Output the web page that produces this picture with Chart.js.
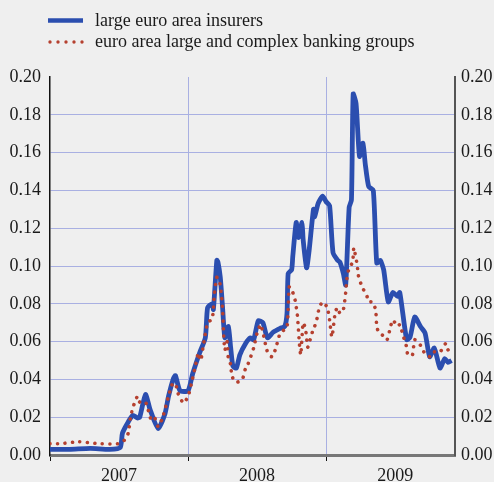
<!DOCTYPE html>
<html>
<head>
<meta charset="utf-8">
<script src="https://cdn.jsdelivr.net/npm/chart.js@4.4.0/dist/chart.umd.min.js"></script>
<style>
  body { margin: 0; background: #efefef; }
  #wrap { position: relative; width: 494px; height: 482px; }
  #legend { position: absolute; left: 0; top: 0; font-family: "Liberation Serif", serif; font-size: 18px; color: #1a1a1a; }
  .row { position: absolute; left: 48px; white-space: nowrap; line-height: 20px; }
  .row svg { position: absolute; left: 0; }
  .row span { position: absolute; left: 47px; }
</style>
</head>
<body>
<div id="wrap">
  <canvas id="chart" width="494" height="482"></canvas>
  <div id="legend">
    <div class="row" style="top:10px">
      <svg width="40" height="20" style="top:0"><line x1="0" y1="10.5" x2="35" y2="10.5" stroke="#2b4eaf" stroke-width="4.5"/></svg>
      <span>large euro area insurers</span>
    </div>
    <div class="row" style="top:31px">
      <svg width="40" height="20" style="top:0"><line x1="2" y1="11" x2="35" y2="11" stroke="#b5402f" stroke-width="3.4" stroke-linecap="round" stroke-dasharray="0 8"/></svg>
      <span>euro area large and complex banking groups</span>
    </div>
  </div>
</div>
<script>
// x values are months since January 2007
const years = ['2007', '2008', '2009'];

const insurerMonths = [0, 1.7, 3.5, 5.2, 6.1, 6.3, 6.8, 7.2, 7.6, 7.8, 8.3, 8.7, 9.4, 10.0, 10.3, 10.7, 10.9, 11.3, 12.0, 12.4,
  13.0, 13.5, 13.7, 14.1, 14.2, 14.5, 14.6, 14.8, 15.0, 15.2, 15.5, 15.7, 15.9, 16.2, 16.5, 17.0, 17.4, 17.7, 18.1, 18.5,
  18.9, 19.4, 20.0, 20.4, 20.6, 20.7, 21.0, 21.1, 21.4, 21.6, 21.9, 22.0, 22.3, 22.5, 22.9, 23.0, 23.3, 23.7, 24.0, 24.3,
  24.6, 25.0, 25.2, 25.5, 25.7, 26.0, 26.2, 26.35, 26.6, 26.9, 27.2, 27.4, 27.7, 28.1, 28.4, 28.7, 29.0, 29.4, 29.8, 30.2,
  30.4, 31.0, 31.3, 31.7, 32.2, 32.6, 33.0, 33.4, 33.9, 34.3, 34.6, 34.9];
const insurerValues = [0.003, 0.003, 0.0035, 0.003, 0.004, 0.0116, 0.0175, 0.021, 0.0196, 0.020, 0.032, 0.024, 0.014, 0.022, 0.031, 0.040, 0.042, 0.034, 0.034, 0.043,
  0.054, 0.062, 0.078, 0.080, 0.077, 0.103, 0.102, 0.094, 0.078, 0.062, 0.068, 0.057, 0.047, 0.046, 0.053, 0.059, 0.062, 0.061, 0.071, 0.070,
  0.062, 0.065, 0.067, 0.068, 0.075, 0.096, 0.098, 0.105, 0.123, 0.115, 0.123, 0.114, 0.099, 0.107, 0.130, 0.126, 0.133, 0.137, 0.134, 0.132,
  0.107, 0.103, 0.102, 0.096, 0.090, 0.131, 0.135, 0.191, 0.186, 0.158, 0.165, 0.154, 0.142, 0.140, 0.1016, 0.103, 0.098, 0.081, 0.086, 0.084,
  0.086, 0.061, 0.0625, 0.073, 0.068, 0.0645, 0.052, 0.0566, 0.046, 0.051, 0.049, 0.050];

const bankMonths = [0, 0.9, 2.5, 4.3, 5.9, 6.5, 6.8, 7.0, 7.2, 7.6, 7.8, 8.3, 8.8, 9.1, 9.4, 9.8, 10.3, 10.6, 10.9, 11.1,
  11.6, 12.0, 12.3, 12.6, 12.9, 13.1, 13.3, 13.7, 14.1, 14.3, 14.5, 14.7, 14.9, 15.0, 15.1, 15.2, 15.4, 15.5, 15.7, 15.8,
  16.1, 16.3, 16.7, 17.0, 17.2, 17.7, 18.0, 18.3, 18.5, 18.8, 19.0, 19.3, 19.6, 20.0, 20.3, 20.6, 20.7, 20.8, 21.1, 21.3,
  21.5, 21.7, 21.8, 22.0, 22.2, 22.3, 22.4, 22.8, 23.0, 23.2, 23.4, 23.7, 24.1, 24.3, 24.5, 24.8, 25.0, 25.2, 25.5, 25.7,
  25.8, 26.0, 26.3, 26.4, 26.5, 26.7, 26.8, 27.0, 27.2, 27.5, 27.7, 28.0, 28.3, 28.4, 28.6, 29.0, 29.3, 29.6, 29.8, 30.2,
  30.4, 30.7, 31.0, 31.1, 31.5, 31.7, 32.2, 32.5, 33.0, 33.3, 33.9, 34.4, 34.6, 35.0];
const bankValues = [0.006, 0.006, 0.007, 0.006, 0.006, 0.008, 0.0116, 0.020, 0.025, 0.031, 0.028, 0.028, 0.0185, 0.0196, 0.015, 0.020, 0.031, 0.037, 0.038, 0.033,
  0.0275, 0.031, 0.038, 0.046, 0.054, 0.050, 0.057, 0.070, 0.072, 0.086, 0.094, 0.093, 0.085, 0.077, 0.063, 0.0555, 0.060, 0.051, 0.048, 0.042,
  0.0386, 0.0386, 0.0397, 0.046, 0.048, 0.0566, 0.0645, 0.069, 0.065, 0.0566, 0.053, 0.052, 0.056, 0.0645, 0.066, 0.068, 0.077, 0.089, 0.086, 0.082,
  0.074, 0.057, 0.053, 0.070, 0.067, 0.062, 0.057, 0.065, 0.068, 0.072, 0.078, 0.081, 0.078, 0.0714, 0.0625, 0.0757, 0.078, 0.075, 0.077, 0.086,
  0.093, 0.099, 0.102, 0.1095, 0.107, 0.1005, 0.095, 0.091, 0.088, 0.085, 0.081, 0.081, 0.077, 0.068, 0.0645, 0.063, 0.061, 0.068, 0.0714, 0.068,
  0.069, 0.063, 0.057, 0.053, 0.053, 0.061, 0.058, 0.0545, 0.052, 0.0545, 0.0545, 0.059, 0.0556, 0.056];

const toPoints = (xs, ys) => xs.map((x, i) => ({ x: x, y: ys[i] }));
const tickFont = { family: 'Liberation Serif', size: 18 };

new Chart(document.getElementById('chart'), {
  type: 'line',
  data: {
    datasets: [{
      label: 'euro area large and complex banking groups',
      data: toPoints(bankMonths, bankValues),
      borderColor: '#b5402f',
      borderWidth: 3.6,
      borderDash: [0.01, 7.5],
      borderCapStyle: 'round',
      pointRadius: 0,
      tension: 0.2
    }, {
      label: 'large euro area insurers',
      data: toPoints(insurerMonths, insurerValues),
      borderColor: '#2b4eaf',
      borderWidth: 4.8,
      borderJoinStyle: 'round',
      pointRadius: 0,
      tension: 0.2
    }]
  },
  options: {
    responsive: false,
    animation: false,
    layout: { padding: { top: 77, left: 0, right: 0, bottom: 0 } },
    plugins: { legend: { display: false }, tooltip: { enabled: false } },
    scales: {
      x: {
        type: 'linear',
        min: 0,
        max: 35.2,
        afterBuildTicks: s => { s.ticks = [0, 6, 12, 18, 24, 30].map(v => ({ value: v })); },
        afterFit: s => { s.height = 27; },
        border: { color: '#777', width: 3 },
        grid: {
          color: c => (c.tick && (c.tick.value === 12 || c.tick.value === 24)) ? '#a9b0e2' : 'rgba(0,0,0,0)',
          tickColor: c => (c.tick && c.tick.value % 12 === 0) ? '#111' : 'rgba(0,0,0,0)',
          tickLength: 6,
          lineWidth: 1
        },
        ticks: {
          autoSkip: false,
          maxRotation: 0,
          padding: 4,
          color: '#1a1a1a',
          font: tickFont,
          callback: v => (v % 12 === 6) ? years[(v - 6) / 12] : ''
        }
      },
      y: {
        min: 0,
        max: 0.2,
        afterFit: s => { s.width = 50; },
        border: { color: '#111', width: 1.5 },
        grid: {
          drawTicks: false,
          color: c => (c.tick && c.tick.value > 0.001 && c.tick.value < 0.199) ? '#a9b0e2' : 'rgba(0,0,0,0)'
        },
        ticks: { stepSize: 0.02, padding: 9, color: '#1a1a1a', font: tickFont, callback: v => v.toFixed(2) }
      },
      y2: {
        position: 'right',
        min: 0,
        max: 0.2,
        afterFit: s => { s.width = 39; },
        border: { color: '#555', width: 2 },
        grid: { drawOnChartArea: false, drawTicks: false },
        ticks: { stepSize: 0.02, padding: 6, color: '#1a1a1a', font: tickFont, callback: v => v.toFixed(2) }
      }
    }
  }
});
</script>
</body>
</html>
